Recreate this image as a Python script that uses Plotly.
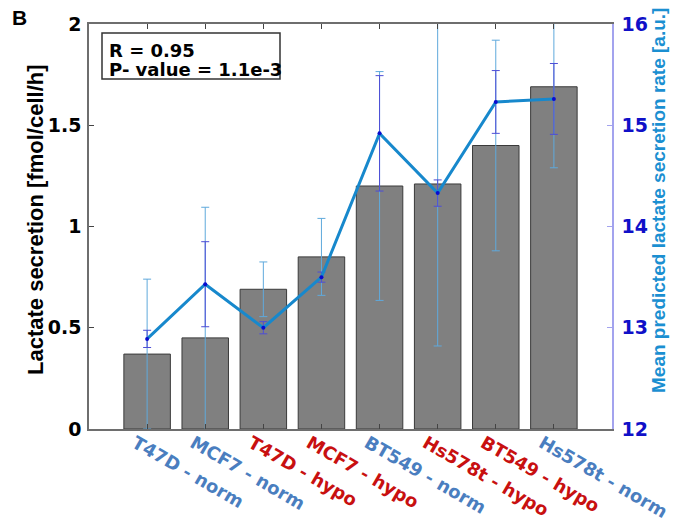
import plotly.graph_objects as go

# Cell lines / conditions (ordered by measured lactate secretion)
categories = ["T47D - norm", "MCF7 - norm", "T47D - hypo", "MCF7 - hypo",
              "BT549 - norm", "Hs578t - hypo", "BT549 - hypo", "Hs578t - norm"]
condition = ["norm", "norm", "hypo", "hypo", "norm", "hypo", "hypo", "norm"]

# Measured lactate secretion [fmol/cell/h] and its error
measured = [0.37, 0.45, 0.69, 0.85, 1.20, 1.21, 1.40, 1.69]
measured_err = [0.37, 0.645, 0.135, 0.19, 0.565, 0.80, 0.52, 0.40]

# Mean predicted lactate secretion rate [a.u.] and its error
predicted = [12.89, 13.43, 13.00, 13.50, 14.92, 14.33, 15.23, 15.26]
predicted_err = [0.085, 0.42, 0.06, 0.05, 0.57, 0.13, 0.31, 0.35]

left_ticks = [0, 0.5, 1, 1.5, 2]
right_ticks = [12, 13, 14, 15, 16]

W, H = 685, 521
L, R, T, B = 89, 73, 24, 92
PW, PH = W - L - R, H - T - B

def px_x(px):
    return (px - L) / PW

def px_y(py):
    return (H - B - py) / PH

label_colors = {"norm": "#4a7ebf", "hypo": "#c81010"}
positions = list(range(1, len(categories) + 1))

fig = go.Figure()

fig.add_trace(go.Bar(
    x=positions, y=measured, width=0.8,
    marker=dict(color="#808080", line=dict(color="#3a3a3a", width=1)),
    error_y=dict(type="data", array=measured_err, visible=True,
                 color="#5fa9dc", thickness=1, width=4),
    showlegend=False, yaxis="y",
))

fig.add_trace(go.Scatter(
    x=positions, y=predicted, mode="lines+markers",
    line=dict(color="#1788cc", width=3),
    marker=dict(color="#0a0ad0", size=4),
    error_y=dict(type="data", array=predicted_err, visible=True,
                 color="#4d4dd6", thickness=1, width=4),
    showlegend=False, yaxis="y2",
))

ticktext = [f"<span style='color:{label_colors[c]}'>{n}</span>"
            for n, c in zip(categories, condition)]

fig.update_layout(
    width=W, height=H,
    margin=dict(l=L, r=R, t=T, b=B, pad=0, autoexpand=False),
    paper_bgcolor="white", plot_bgcolor="white",
    font=dict(family="Liberation Sans, Arial", color="black"),
    xaxis=dict(
        range=[0, 9], tickvals=positions, ticktext=ticktext, automargin=False,
        tickangle=30, tickfont=dict(family="DejaVu Sans", size=18, weight="bold"),
        ticklabelshift=-12, ticklabelstandoff=-5,
        showline=True, linecolor="#6e6e6e", linewidth=1.5, mirror="ticks",
        ticks="inside", ticklen=5, tickcolor="#444", showgrid=False, zeroline=False,
    ),
    yaxis=dict(
        range=[0, 2], tickvals=left_ticks, automargin=False,
        ticktext=[f"{v:g}" for v in left_ticks],
        tickfont=dict(family="DejaVu Sans", size=19, weight="bold", color="black"),
        showline=True, linecolor="#6e6e6e", linewidth=1.5,
        ticks="inside", ticklen=5, tickcolor="#444",
        showgrid=False, zeroline=False, ticklabelstandoff=2,
    ),
    yaxis2=dict(
        range=[12, 16], tickvals=right_ticks, automargin=False,
        ticktext=[str(v) for v in right_ticks],
        overlaying="y", side="right",
        tickfont=dict(family="DejaVu Sans", size=19, weight="bold", color="#1010c8"),
        showline=True, linecolor="#a3a3ee", linewidth=1.5,
        ticks="inside", ticklen=5, tickcolor="#a3a3ee",
        showgrid=False, zeroline=False, ticklabelstandoff=4,
    ),
)

# Axis titles
fig.add_annotation(
    text="<b>Lactate secretion [fmol/cell/h]</b>", textangle=-90,
    xref="paper", yref="paper", x=px_x(35), y=px_y(220),
    xanchor="center", yanchor="middle",
    showarrow=False, font=dict(family="Liberation Sans", size=22, color="black"),
)
fig.add_annotation(
    text="<b>Mean predicted lactate secretion rate [a.u.]</b>", textangle=-90,
    xref="paper", yref="paper", x=px_x(659), y=px_y(201),
    xanchor="center", yanchor="middle",
    showarrow=False, font=dict(family="Liberation Sans", size=19, color="#1b8fd1"),
)

# Panel letter
fig.add_annotation(
    text="<b>B</b>", xref="paper", yref="paper", x=px_x(19), y=px_y(17),
    xanchor="center", yanchor="middle",
    showarrow=False, font=dict(family="Liberation Sans", size=21, color="black"),
)

# Correlation box
fig.add_shape(
    type="rect", xref="paper", yref="paper",
    x0=px_x(102), x1=px_x(280), y0=px_y(79), y1=px_y(33),
    line=dict(color="#333333", width=1.5), fillcolor="white", layer="above",
)
fig.add_annotation(
    text="<b>R = 0.95</b>", xref="paper", yref="paper",
    x=px_x(107), y=px_y(51), xanchor="left", yanchor="middle",
    showarrow=False, font=dict(family="DejaVu Sans", size=18, color="black"),
)
fig.add_annotation(
    text="<b>P- value = 1.1e-3</b>", xref="paper", yref="paper",
    x=px_x(107), y=px_y(69), xanchor="left", yanchor="middle",
    showarrow=False, font=dict(family="DejaVu Sans", size=18, color="black"),
)

fig.write_html("out.html")
